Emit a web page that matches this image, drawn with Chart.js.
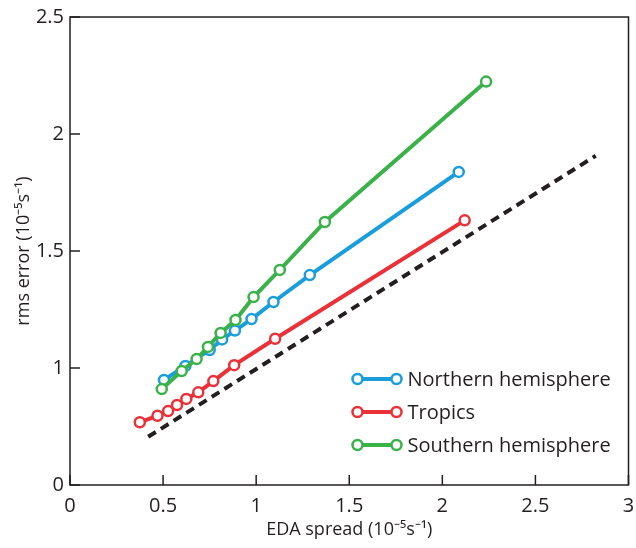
<!DOCTYPE html>
<html>
<head>
<meta charset="utf-8">
<script src="https://cdn.jsdelivr.net/npm/chart.js@4/dist/chart.umd.min.js"></script>
<style>
  html, body { margin: 0; padding: 0; background: #fff; }
  #wrap { width: 636px; height: 548px; }
</style>
</head>
<body>
<div id="wrap"><canvas id="c" width="636" height="548"></canvas></div>
<script>
// EDA spread (x) vs rms error (y), units 1e-5 s-1
const northX = [0.505, 0.620, 0.750, 0.817, 0.886, 0.975, 1.093, 1.288, 2.088]
const northY = [0.949, 1.009, 1.077, 1.122, 1.160, 1.209, 1.282, 1.397, 1.838]

const tropicsX = [0.375, 0.470, 0.527, 0.575, 0.625, 0.689, 0.770, 0.882, 1.102, 2.120]
const tropicsY = [0.768, 0.796, 0.816, 0.842, 0.868, 0.896, 0.944, 1.012, 1.125, 1.631]

const southX = [0.493, 0.600, 0.680, 0.741, 0.809, 0.889, 0.986, 1.127, 1.369, 2.235]
const southY = [0.910, 0.987, 1.038, 1.090, 1.150, 1.205, 1.303, 1.419, 1.624, 2.224]

// dashed reference line
const refX = [0.42, 2.824]
const refY = [0.706, 1.907]

const xTicks = [0, 0.5, 1, 1.5, 2, 2.5, 3]
const xTickLabels = ['0', '0.5', '1', '1.5', '2', '2.5', '3']
// broken y axis: the bottom tick is labelled 0
const yTicks = [0.5, 1, 1.5, 2, 2.5]
const yTickLabels = ['0', '1', '1.5', '2', '2.5']

const seriesNames = ['Northern hemisphere', 'Tropics', 'Southern hemisphere']
const seriesColors = ['#1a9ddb', '#ea3138', '#3bb14a']

const ink = '#231f20'
const fontFamily = "'Open Sans', sans-serif"

function toPoints(xs, ys) {
    return xs.map((x, i) => ({x: x, y: ys[i]}))
}

function lineSet(label, xs, ys, color, order) {
    return {
        label: label,
        data: toPoints(xs, ys),
        showLine: true,
        borderColor: color,
        backgroundColor: '#fff',
        borderWidth: 4,
        pointRadius: 5,
        pointBorderWidth: 2.5,
        pointBorderColor: color,
        pointBackgroundColor: '#fff',
        order: order
    }
}

// inward tick marks + closed frame
const frame = {
    id: 'frame',
    afterDatasetsDraw(chart) {
        const ctx = chart.ctx
        const a = chart.chartArea
        const xs = chart.scales.x
        const ys = chart.scales.y
        ctx.save()
        ctx.strokeStyle = ink
        ctx.lineWidth = 1.5
        ctx.strokeRect(a.left, a.top, a.right - a.left, a.bottom - a.top)
        ctx.beginPath()
        xTicks.forEach(v => {
            const px = xs.getPixelForValue(v)
            ctx.moveTo(px, a.bottom)
            ctx.lineTo(px, a.bottom - 10)
        })
        yTicks.forEach(v => {
            const py = ys.getPixelForValue(v)
            ctx.moveTo(a.left, py)
            ctx.lineTo(a.left + 10, py)
        })
        ctx.stroke()
        ctx.restore()
    }
}

// legend inside the plot, line sample with a circle at both ends
const insideLegend = {
    id: 'insideLegend',
    afterDraw(chart) {
        const ctx = chart.ctx
        const a = chart.chartArea
        const x0 = a.right - 271
        const x1 = x0 + 39
        let y = a.bottom - 106
        ctx.save()
        seriesNames.forEach((name, i) => {
            const c = seriesColors[i]
            ctx.strokeStyle = c
            ctx.lineWidth = 4
            ctx.beginPath()
            ctx.moveTo(x0, y)
            ctx.lineTo(x1, y)
            ctx.stroke()
            ctx.lineWidth = 2.5
            ;[x0, x1].forEach(px => {
                ctx.beginPath()
                ctx.arc(px, y, 5, 0, Math.PI * 2)
                ctx.fillStyle = '#fff'
                ctx.fill()
                ctx.stroke()
            })
            ctx.fillStyle = ink
            ctx.font = "20px " + fontFamily
            ctx.textBaseline = 'middle'
            ctx.textAlign = 'left'
            ctx.fillText(name, x1 + 11, y + 1)
            y += 33
        })
        ctx.restore()
    }
}

const config = {
    type: 'scatter',
    data: {
        datasets: [
            lineSet(seriesNames[2], southX, southY, seriesColors[2], 0),
            lineSet(seriesNames[0], northX, northY, seriesColors[0], 1),
            lineSet(seriesNames[1], tropicsX, tropicsY, seriesColors[1], 2),
            {
                label: 'reference',
                data: toPoints(refX, refY),
                showLine: true,
                borderColor: ink,
                borderWidth: 4,
                borderDash: [9, 6],
                pointRadius: 0,
                order: 3
            }
        ]
    },
    options: {
        responsive: false,
        animation: false,
        layout: { padding: { top: 17, right: 6, left: 0, bottom: 0 } },
        plugins: {
            legend: { display: false },
            tooltip: { enabled: false }
        },
        scales: {
            x: {
                type: 'linear',
                min: 0,
                max: 3,
                afterBuildTicks: s => { s.ticks = xTicks.map(v => ({value: v})) },
                afterFit: s => { s.height = 63; s.paddingRight = 0; s.paddingLeft = 0 },
                grid: { display: false, drawTicks: false },
                border: { display: false },
                ticks: {
                    color: ink,
                    padding: 9,
                    font: { family: fontFamily, size: 20 },
                    callback: (v) => xTickLabels[xTicks.indexOf(v)]
                },
                title: {
                    display: true,
                    text: 'EDA spread (10\u207B\u2075s\u207B\u00B9)',
                    color: ink,
                    font: { family: fontFamily, size: 18 },
                    padding: { top: 10, bottom: 7 }
                }
            },
            y: {
                type: 'linear',
                min: 0.5,
                max: 2.5,
                afterBuildTicks: s => { s.ticks = yTicks.map(v => ({value: v})) },
                afterFit: s => { s.width = 70; s.paddingTop = 0; s.paddingBottom = 0 },
                grid: { display: false, drawTicks: false },
                border: { display: false },
                ticks: {
                    color: ink,
                    padding: 6,
                    font: { family: fontFamily, size: 20 },
                    callback: (v) => yTickLabels[yTicks.indexOf(v)]
                },
                title: {
                    display: true,
                    text: 'rms error (10\u207B\u2075s\u207B\u00B9)',
                    color: ink,
                    font: { family: fontFamily, size: 18 },
                    padding: { top: 13, bottom: 0 }
                }
            }
        }
    },
    plugins: [frame, insideLegend]
}

new Chart(document.getElementById('c'), config)
</script>
</body>
</html>
